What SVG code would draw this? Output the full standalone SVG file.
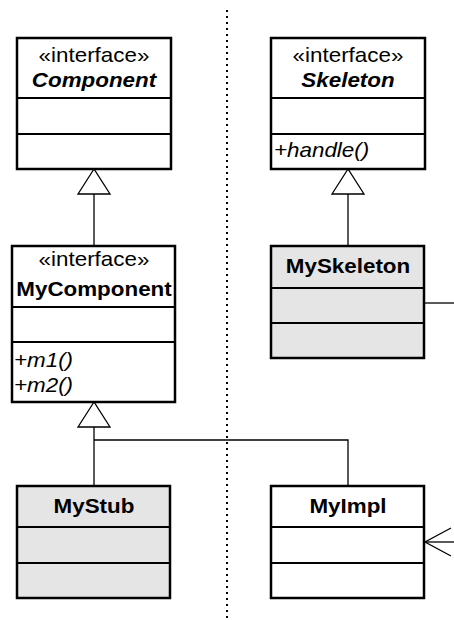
<svg xmlns="http://www.w3.org/2000/svg" width="454" height="620" viewBox="0 0 454 620">
<style>
  text { font-family: "Liberation Sans", Arial, sans-serif; font-size: 20px; fill: #000; }
  .c { text-anchor: middle; }
  .b { font-weight: bold; }
  .i { font-style: italic; }
  .box { fill: #fff; stroke: #000; stroke-width: 2.5; }
  .grey { fill: #e5e5e5; }
  .div { stroke: #000; stroke-width: 2; fill: none; }
  .conn { stroke: #000; stroke-width: 1.3; fill: none; }
  .tri { stroke: #000; stroke-width: 1.3; fill: #fff; }
  .sep { stroke: #000; stroke-width: 2; stroke-dasharray: 2 4; fill: none; }
</style>
<rect width="454" height="620" fill="#fff"/>
<line class="sep" x1="227" y1="10" x2="227" y2="620"/>

<g id="connectors">
  <polyline class="conn" points="94,194 94,246"/>
  <polygon class="tri" points="94,169 78,194 110,194"/>
  <polyline class="conn" points="348,194 348,246"/>
  <polygon class="tri" points="348,169 332,194 364,194"/>
  <polyline class="conn" points="94,427 94,486"/>
  <polyline class="conn" points="94,440 348,440 348,486"/>
  <polygon class="tri" points="94,402 78,427 110,427"/>
  <line class="conn" x1="424" y1="303" x2="454" y2="303"/>
  <line class="conn" x1="424" y1="542" x2="454" y2="542"/>
  <polyline class="conn" points="451,528 425,542 451,556"/>
</g>

<g id="Component">
  <rect class="box" x="17" y="38" width="154" height="131"/>
  <line class="div" x1="17" y1="98" x2="171" y2="98"/>
  <line class="div" x1="17" y1="134" x2="171" y2="134"/>
  <text class="c" transform="translate(94 62) scale(1.12 1)">«interface»</text>
  <text class="c b i" transform="translate(94 87) scale(1.12 1)">Component</text>
</g>

<g id="Skeleton">
  <rect class="box" x="271" y="38" width="154" height="131"/>
  <line class="div" x1="271" y1="98" x2="425" y2="98"/>
  <line class="div" x1="271" y1="134" x2="425" y2="134"/>
  <text class="c" transform="translate(348 62) scale(1.12 1)">«interface»</text>
  <text class="c b i" transform="translate(348 87) scale(1.12 1)">Skeleton</text>
  <text class="i" transform="translate(274 157) scale(1.12 1)">+handle()</text>
</g>

<g id="MyComponent">
  <rect class="box" x="12" y="246" width="163" height="156"/>
  <line class="div" x1="12" y1="307" x2="175" y2="307"/>
  <line class="div" x1="12" y1="342" x2="175" y2="342"/>
  <text class="c" transform="translate(94 266) scale(1.12 1)">«interface»</text>
  <text class="c b" transform="translate(94 296) scale(1.12 1)">MyComponent</text>
  <text class="i" transform="translate(14 367) scale(1.12 1)">+m1()</text>
  <text class="i" transform="translate(14 392) scale(1.12 1)">+m2()</text>
</g>

<g id="MySkeleton">
  <rect class="box grey" x="271" y="246" width="153" height="112"/>
  <line class="div" x1="271" y1="288" x2="424" y2="288"/>
  <line class="div" x1="271" y1="323" x2="424" y2="323"/>
  <text class="c b" transform="translate(348 273) scale(1.12 1)">MySkeleton</text>
</g>

<g id="MyStub">
  <rect class="box grey" x="17" y="486" width="153" height="112"/>
  <line class="div" x1="17" y1="527" x2="170" y2="527"/>
  <line class="div" x1="17" y1="563" x2="170" y2="563"/>
  <text class="c b" transform="translate(94 513) scale(1.12 1)">MyStub</text>
</g>

<g id="MyImpl">
  <rect class="box" x="271" y="486" width="153" height="112"/>
  <line class="div" x1="271" y1="527" x2="424" y2="527"/>
  <line class="div" x1="271" y1="563" x2="424" y2="563"/>
  <text class="c b" transform="translate(348 513) scale(1.12 1)">MyImpl</text>
</g>
</svg>
